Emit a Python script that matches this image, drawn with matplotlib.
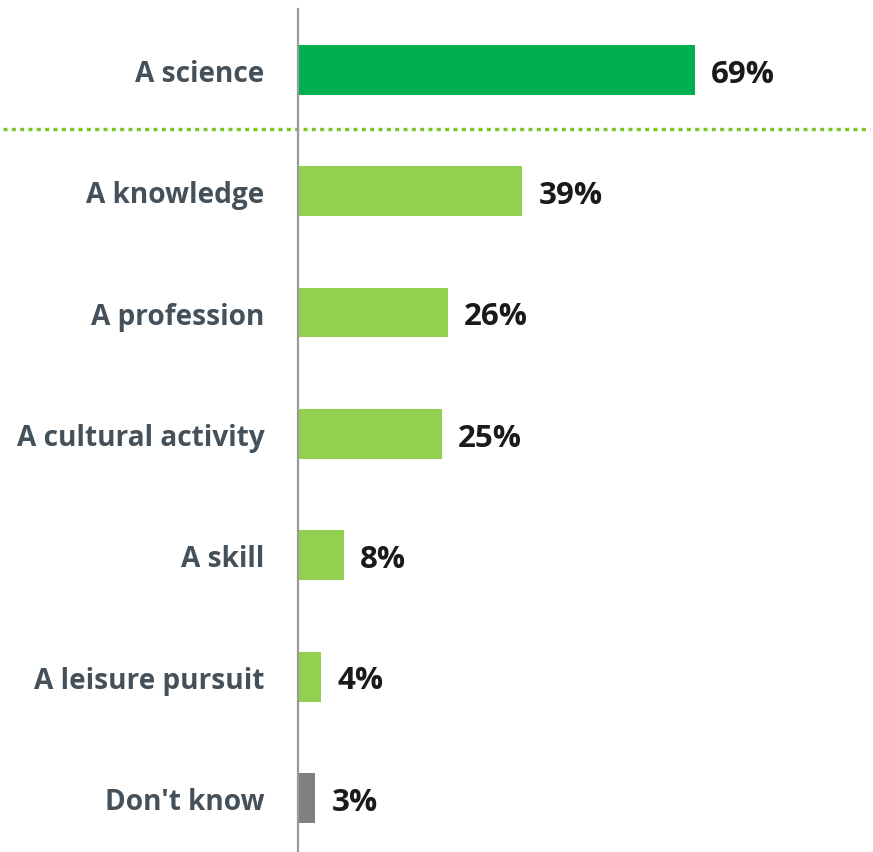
import matplotlib.pyplot as plt

# Datos
categorias = ["A science", "A knowledge", "A profession", "A cultural activity",
              "A skill", "A leisure pursuit", "Don't know"]
valores = [69, 39, 26, 25, 8, 4, 3]
colores = ["#00B050", "#92D050", "#92D050", "#92D050", "#92D050", "#92D050", "#808080"]

plt.rcParams['font.family'] = ['Open Sans', 'DejaVu Sans']

fig = plt.figure(figsize=(8.73, 8.53), dpi=100)
ax = fig.add_axes([298 / 873, 0, 575 / 873, 843 / 853])

y = list(range(len(categorias)))
ax.barh(y, valores, height=0.41, color=colores)

ax.set_xlim(0, 100)
ax.set_ylim(6.445, -0.502)

# Etiquetas de valor
for yi, v in zip(y, valores):
    ax.text(v + 2.8, yi + 0.03, f"{v}%", va='center', ha='left', fontsize=22.5,
            fontweight='bold', color='#1A1A1A')

# Etiquetas de categoría
ax.set_yticks(y)
ax.set_yticklabels(categorias, fontsize=20.2, fontweight='bold', color='#44505A')
ax.tick_params(axis='y', length=0, pad=24)
ax.set_xticks([])

for s in ['top', 'right', 'bottom']:
    ax.spines[s].set_visible(False)
ax.spines['left'].set_color('#9A9A9A')
ax.spines['left'].set_linewidth(1.6)

# Línea punteada separadora
ax.axhline(0.486, xmin=-0.513, xmax=0.995, color='#7DC41F', linewidth=2.4,
           linestyle=(0, (1.2, 1.3)), clip_on=False)

fig.savefig("out.png", dpi=100)
